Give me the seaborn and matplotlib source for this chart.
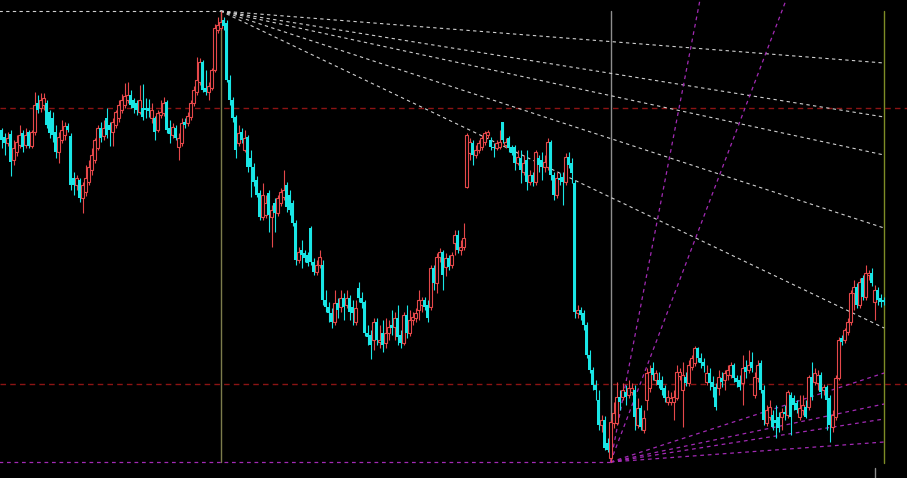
import numpy as np
import matplotlib
matplotlib.use("Agg")
import matplotlib.pyplot as plt
import seaborn as sns

# candle data (price units, one bar per value)
opens = [370, 363, 357, 366, 340, 348, 355, 367, 355, 368, 354, 368, 397, 392, 395, 397, 388, 382, 368, 348,
         360, 365, 374, 364, 322, 315, 320, 302, 308, 318, 330, 340, 352, 372, 364, 382, 375, 368, 375, 382,
         390, 395, 400, 405, 400, 397, 388, 392, 392, 392, 382, 382, 370, 385, 387, 398, 372, 365, 372, 353,
         357, 378, 377, 383, 397, 408, 418, 438, 412, 408, 412, 430, 470, 472, 480, 477, 420, 400, 383, 357,
         368, 350, 363, 342, 333, 320, 307, 283, 285, 307, 283, 297, 287, 297, 303, 315, 305, 297, 277, 240,
         250, 247, 245, 272, 238, 228, 235, 235, 200, 193, 187, 178, 197, 193, 202, 195, 202, 193, 178, 212,
         202, 198, 167, 165, 160, 178, 158, 167, 157, 167, 175, 173, 182, 165, 157, 185, 167, 180, 182, 190,
         195, 200, 195, 193, 232, 217, 243, 248, 233, 242, 235, 257, 265, 250, 253, 313, 347, 357, 345, 350,
         353, 358, 365, 360, 353, 352, 353, 378, 355, 362, 353, 353, 337, 342, 328, 340, 318, 325, 318, 342,
         340, 333, 333, 358, 325, 305, 322, 323, 318, 343, 337, 317, 187, 190, 187, 175, 145, 130, 115, 100,
         75, 80, 57, 42, 77, 77, 103, 103, 108, 105, 108, 110, 75, 92, 70, 100, 112, 132, 120, 120,
         120, 112, 98, 98, 98, 102, 124, 110, 123, 117, 133, 137, 152, 142, 138, 118, 127, 118, 113, 112,
         122, 120, 125, 125, 135, 122, 120, 117, 133, 130, 138, 105, 122, 137, 110, 77, 83, 85, 80, 83,
         83, 88, 85, 105, 102, 97, 83, 90, 93, 93, 123, 118, 117, 125, 110, 113, 102, 73, 83, 122,
         162, 160, 168, 178, 207, 213, 195, 222, 203, 225, 227, 198, 210, 202, 200]

closes = [360, 357, 362, 338, 352, 358, 365, 353, 365, 354, 368, 395, 390, 400, 402, 375, 367, 365, 348, 363,
          370, 374, 370, 315, 315, 322, 302, 315, 322, 333, 345, 360, 372, 362, 372, 365, 370, 378, 388, 395,
          400, 404, 405, 395, 392, 390, 400, 383, 390, 389, 390, 368, 387, 388, 397, 370, 366, 373, 362, 362,
          377, 375, 384, 397, 410, 420, 438, 410, 408, 414, 430, 472, 475, 478, 474, 420, 400, 382, 350, 367,
          360, 362, 333, 333, 318, 305, 283, 305, 297, 285, 290, 287, 302, 308, 310, 293, 290, 277, 240, 248,
          245, 242, 237, 238, 228, 235, 243, 200, 193, 187, 178, 197, 190, 202, 193, 202, 188, 187, 192, 202,
          197, 167, 163, 155, 178, 160, 160, 155, 167, 173, 172, 182, 163, 157, 185, 167, 180, 183, 187, 200,
          200, 193, 182, 232, 217, 243, 248, 225, 242, 233, 245, 265, 250, 253, 262, 365, 358, 345, 350, 357,
          362, 367, 368, 353, 352, 357, 358, 360, 358, 352, 347, 337, 343, 330, 337, 318, 325, 318, 348, 335,
          333, 338, 358, 325, 305, 322, 320, 318, 343, 335, 327, 188, 190, 185, 175, 145, 130, 115, 110, 75,
          80, 52, 50, 78, 87, 103, 98, 110, 103, 112, 112, 83, 92, 73, 82, 127, 128, 125, 127, 115,
          110, 102, 103, 102, 103, 128, 128, 125, 117, 135, 142, 152, 142, 137, 134, 127, 117, 113, 93, 123,
          118, 127, 130, 135, 122, 118, 113, 132, 128, 135, 132, 123, 135, 110, 80, 90, 93, 73, 77, 72,
          88, 86, 108, 83, 95, 90, 92, 95, 83, 123, 103, 127, 125, 108, 113, 100, 75, 85, 122, 160,
          158, 170, 178, 207, 213, 195, 218, 203, 227, 227, 217, 210, 200, 198, 198]

highs = [372, 367, 368, 370, 360, 365, 375, 370, 372, 370, 370, 408, 405, 407, 407, 400, 390, 388, 375, 368,
         380, 378, 377, 367, 328, 325, 322, 318, 335, 340, 352, 362, 375, 378, 380, 392, 378, 382, 390, 400,
         406, 417, 418, 410, 402, 400, 415, 416, 402, 401, 397, 384, 390, 400, 403, 400, 380, 377, 375, 367,
         382, 382, 388, 400, 414, 443, 442, 440, 430, 418, 432, 476, 483, 489, 483, 480, 425, 403, 385, 375,
         372, 370, 365, 350, 337, 324, 310, 317, 305, 310, 295, 302, 305, 312, 330, 318, 310, 300, 280, 253,
         260, 250, 248, 274, 242, 240, 250, 240, 210, 198, 192, 210, 202, 210, 207, 210, 205, 200, 200, 218,
         208, 200, 175, 170, 182, 182, 175, 180, 182, 180, 190, 188, 195, 170, 188, 195, 190, 188, 192, 210,
         203, 203, 200, 235, 235, 247, 252, 250, 247, 245, 248, 270, 270, 260, 277, 367, 362, 360, 355, 360,
         365, 369, 370, 363, 357, 360, 370, 378, 362, 364, 355, 355, 350, 350, 345, 350, 330, 328, 350, 345,
         348, 345, 362, 360, 328, 328, 327, 328, 347, 348, 342, 320, 195, 193, 190, 178, 150, 133, 120, 110,
         85, 84, 62, 80, 98, 118, 110, 117, 115, 120, 117, 115, 102, 95, 90, 132, 135, 138, 130, 128,
         124, 115, 110, 108, 110, 135, 132, 138, 128, 140, 145, 154, 153, 147, 142, 135, 132, 124, 117, 130,
         128, 130, 135, 138, 137, 125, 125, 145, 140, 150, 148, 128, 140, 140, 115, 95, 100, 90, 95, 88,
         92, 95, 110, 108, 105, 100, 105, 105, 100, 125, 138, 132, 130, 128, 116, 115, 105, 90, 125, 163,
         165, 172, 182, 210, 220, 217, 222, 225, 235, 230, 232, 215, 213, 206, 203]

lows = [352, 345, 354, 324, 335, 344, 352, 348, 352, 352, 352, 365, 387, 388, 390, 372, 362, 358, 342, 337,
        357, 360, 368, 310, 305, 310, 298, 287, 304, 315, 325, 337, 350, 358, 360, 362, 354, 354, 372, 378,
        387, 392, 397, 392, 387, 385, 386, 380, 382, 383, 377, 360, 368, 382, 384, 367, 357, 362, 360, 340,
        354, 372, 374, 380, 394, 405, 415, 408, 405, 400, 410, 428, 467, 470, 470, 418, 395, 378, 342, 354,
        357, 348, 328, 303, 314, 303, 280, 280, 282, 268, 253, 268, 284, 294, 300, 288, 285, 274, 235, 237,
        232, 238, 234, 235, 225, 225, 232, 195, 188, 178, 172, 175, 182, 188, 180, 192, 180, 175, 175, 198,
        192, 164, 155, 141, 150, 155, 152, 148, 152, 160, 165, 160, 155, 152, 155, 162, 164, 175, 178, 180,
        188, 190, 178, 190, 210, 207, 238, 210, 224, 230, 232, 245, 247, 245, 250, 312, 340, 335, 342, 347,
        350, 355, 362, 350, 343, 350, 351, 357, 352, 348, 345, 330, 335, 317, 325, 310, 315, 314, 315, 328,
        320, 328, 330, 320, 300, 302, 315, 295, 315, 332, 317, 182, 182, 180, 170, 142, 127, 110, 100, 70,
        68, 50, 48, 38, 72, 75, 90, 100, 95, 102, 105, 70, 72, 70, 67, 90, 108, 120, 115, 112,
        105, 98, 95, 95, 80, 100, 120, 73, 114, 114, 130, 134, 138, 132, 128, 115, 110, 103, 90, 105,
        113, 110, 120, 122, 118, 113, 110, 95, 122, 127, 128, 102, 118, 107, 75, 74, 80, 70, 62, 68,
        70, 80, 82, 65, 90, 87, 80, 85, 82, 90, 100, 115, 110, 102, 105, 70, 58, 68, 80, 120,
        155, 157, 165, 175, 190, 192, 192, 200, 200, 220, 214, 180, 195, 193, 195]

# fan from the top (bar 73) and from the bottom (bar 203)
top_bar, top_price = 73, 489
top_fan_ends = [437, 383, 345, 272, 172]
low_bar, low_price = 203, 38
low_fan_ends = [1451, 758, 127, 96, 81, 58]
fan_end_bar = 294.2
levels = [392, 116]
marker_bars = [73, 203, 294.2]

UP = "#e5484a"
DOWN = "#19e6e6"

sns.set_theme(style="dark", rc={"axes.facecolor": "black", "figure.facecolor": "black"})

o = np.array(opens, dtype=float)
c = np.array(closes, dtype=float)
h = np.array(highs, dtype=float)
l = np.array(lows, dtype=float)
idx = np.arange(len(o))
up = c >= o
dn = ~up

fig = plt.figure(figsize=(9.07, 4.78), dpi=100)
ax = fig.add_axes([0, 0, 1, 1])
ax.set_facecolor("black")

# horizontal levels
for lv in levels:
    ax.axhline(lv, color="#8b1414", lw=1.0, ls=(0, (4, 3)), zorder=1)

# vertical markers
ax.plot([marker_bars[0]] * 2, [top_price, low_price], color="#7c7c4c", lw=1.0, zorder=1)
ax.plot([marker_bars[1]] * 2, [top_price, low_price], color="#8e8e8e", lw=1.0, zorder=1)
ax.plot([marker_bars[2]] * 2, [top_price, low_price - 1], color="#7e8c26", lw=1.0, zorder=1)
ax.plot([291.3, 291.3], [32, 22], color="#8e8e8e", lw=1.0, zorder=1)

# fans
ax.plot([-1, top_bar], [top_price, top_price], color="#d0d0d0", lw=0.8, ls=(0, (3, 3)), zorder=2)
for end in top_fan_ends:
    ax.plot([top_bar, fan_end_bar], [top_price, end], color="#d0d0d0", lw=0.8, ls=(0, (3, 3)), zorder=2)
ax.plot([-1, low_bar], [low_price, low_price], color="#a22ab4", lw=0.9, ls=(0, (3, 3)), zorder=2)
for end in low_fan_ends:
    ax.plot([low_bar, fan_end_bar], [low_price, end], color="#a22ab4", lw=0.9, ls=(0, (3, 3)), zorder=2)

# candles
ax.vlines(idx[up], l[up], h[up], color=UP, lw=0.8, zorder=3)
ax.vlines(idx[dn], l[dn], h[dn], color=DOWN, lw=0.8, zorder=3)
ax.bar(idx[up], np.maximum(c[up] - o[up], 1), bottom=o[up], width=0.72,
       facecolor="black", edgecolor=UP, linewidth=0.8, zorder=4)
ax.bar(idx[dn], np.maximum(o[dn] - c[dn], 1), bottom=c[dn], width=0.8,
       color=DOWN, linewidth=0, zorder=4)

ax.set_xlim(-0.5, 301.83)
ax.set_ylim(22, 500)
ax.axis("off")

fig.savefig("out.png", dpi=100, facecolor="black")
